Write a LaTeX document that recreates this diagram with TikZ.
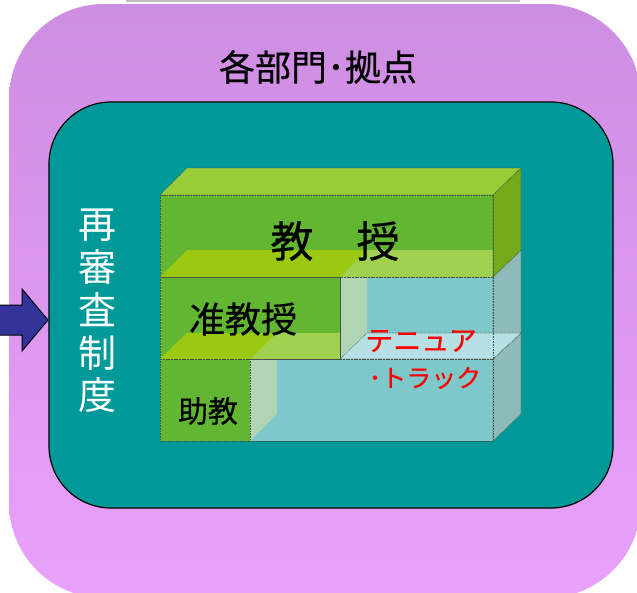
\documentclass[tikz,border=0pt]{standalone}
\usepackage{fontspec}
\newfontfamily\jp[FakeBold=0.5]{Noto Sans CJK JP}
\newfontfamily\jpl{Noto Sans CJK JP}
\definecolor{pTop}{RGB}{205,141,225}
\definecolor{pBot}{RGB}{233,162,252}
\definecolor{tealbg}{RGB}{0,153,153}
\definecolor{arrowblue}{RGB}{51,51,153}
\definecolor{gFront}{RGB}{98,182,50}
\definecolor{gTop}{RGB}{152,205,55}
\definecolor{gRight}{RGB}{118,170,24}
\definecolor{gYellow}{RGB}{155,201,16}
\definecolor{gLight}{RGB}{160,208,80}
\definecolor{tFront}{RGB}{125,200,202}
\definecolor{tBand}{RGB}{176,212,180}
\definecolor{tFloor}{RGB}{182,224,227}
\definecolor{tRight}{RGB}{142,186,186}
\definecolor{edgegray}{RGB}{70,80,70}
\tikzset{
  face/.style={draw=edgegray, densely dotted, line width=0.6pt},
  plain/.style={draw=none},
  boxtext/.style={font=\jp\fontsize{#1}{#1}\selectfont, text=black, inner sep=0pt},
  redtext/.style={font=\jp\fontsize{#1}{#1}\selectfont, text=red, inner sep=0pt},
}
\begin{document}
\begin{tikzpicture}[x=1pt,y=-1pt]
\useasboundingbox (0,0) rectangle (637,592);
\clip (0,0) rectangle (637,592);
% outer purple
\shade[top color=pTop, bottom color=pBot, rounded corners=95pt] (9,4) rectangle (641,598);
\draw[black!25, line width=1.5pt] (126,1) -- (520,1);
% inner teal
\draw[fill=tealbg, draw=black, line width=1.2pt, rounded corners=62pt] (49,102) rectangle (613,508);
% arrow
\draw[fill=arrowblue, draw=black, line width=1pt, line join=miter]
  (-5,305) -- (22,305) -- (22,289) -- (48,320) -- (22,351) -- (22,335) -- (-5,335) -- cycle;
% vertical label
\node[font=\jpl\fontsize{38}{42.75}\selectfont, text=white, align=center, inner sep=0pt] (saishinsa) at (97,311) {再\\審\\査\\制\\度};
% title
\node[boxtext=36] (bumon) at (318,67) {各部門･拠点};
% ---------- bottom row ----------
\path[face, fill=gFront] (160,359) rectangle (250,441);
\path[face, fill=tFront] (250,359) rectangle (493,441);
\path[plain, fill=tBand] (250,359) -- (277,359) -- (277,414) -- (250,441) -- cycle;
\path[face, fill=tRight] (493,359) -- (521,333) -- (521,414) -- (493,441) -- cycle;
\draw[face] (250,359) rectangle (493,441);
% ---------- middle row ----------
\path[face, fill=gFront] (160,277) rectangle (340,359);
\path[plain, fill=gYellow] (160,359) -- (187,333) -- (277,333) -- (250,359) -- cycle;
\path[plain, fill=gLight] (250,359) -- (277,333) -- (340,333) -- (340,359) -- cycle;
\path[face, fill=tFront] (340,277) rectangle (493,359);
\path[plain, fill=tBand] (340,277) -- (367,277) -- (367,333) -- (340,359) -- cycle;
\path[face, fill=tRight] (493,277) -- (521,250) -- (521,333) -- (493,359) -- cycle;
\path[face, fill=tFloor] (340,359) -- (367,333) -- (521,333) -- (493,359) -- cycle;
\draw[face] (160,277) rectangle (340,359);
\draw[face] (340,277) rectangle (493,359);
% ---------- top row ----------
\path[face, fill=gFront] (160,195) rectangle (493,277);
\path[plain, fill=gYellow] (160,277) -- (187,250) -- (367,250) -- (340,277) -- cycle;
\path[plain, fill=gLight] (340,277) -- (367,250) -- (493,250) -- (493,277) -- cycle;
\path[face, fill=gTop] (160,195) -- (187,168) -- (521,168) -- (493,195) -- cycle;
\path[face, fill=gRight] (493,195) -- (521,168) -- (521,250) -- (493,277) -- cycle;
\draw[face] (160,195) rectangle (493,277);
% ---------- labels ----------
\node[boxtext=43] (kyoju) at (335,241) {教　授};
\node[boxtext=36] (jun) at (243,319) {准教授};
\node[boxtext=30] (jo) at (208,411) {助教};
\node[redtext=28] (tenure) at (421,341) {テニュア};
\node[redtext=25] (track) at (425,378) {･トラック};
\end{tikzpicture}
\end{document}
